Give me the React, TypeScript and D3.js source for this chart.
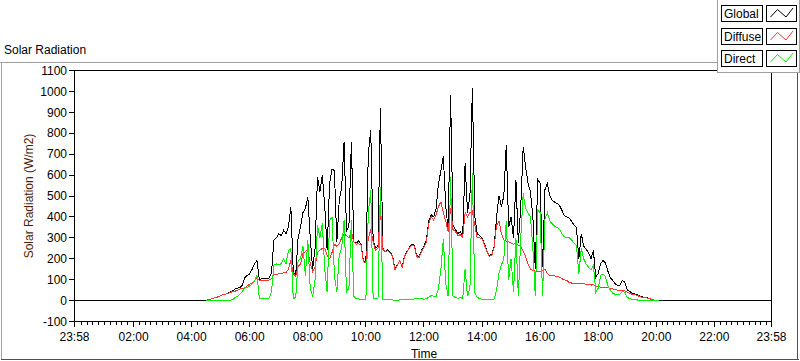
import React from "react";
import * as d3 from "d3";

// samples every 5 minutes, starting at firstSample
const firstSample = "04:30";
const stepMinutes = 5;

const globalRad = [
  2, 5, 8, 12, 15, 18, 24, 28, 30, 35,
  40, 48, 55, 60, 62, 75, 110, 120, 128, 150,
  175, 192, 100, 104, 106, 104, 108, 130, 290, 300,
  320, 310, 336, 320, 352, 448, 135, 120, 300, 352,
  420, 440, 496, 300, 150, 250, 590, 520, 600, 450,
  240, 560, 630, 620, 280, 480, 540, 760, 330, 360,
  760, 280, 275, 285, 270, 190, 185, 700, 815, 290,
  250, 260, 920, 250, 235, 245, 230, 215, 150, 170,
  192, 160, 215, 235, 255, 270, 265, 215, 210, 240,
  260, 290, 380, 410, 400, 440, 560, 620, 690, 450,
  340, 984, 360, 340, 320, 330, 310, 656, 420, 500,
  1018, 400, 320, 310, 300, 270, 240, 216, 220, 260,
  400, 500, 450, 500, 744, 350, 400, 300, 576, 275,
  450, 736, 640, 560, 520, 400, 150, 580, 560, 160,
  530, 560, 500, 480, 470, 465, 455, 432, 405, 400,
  395, 380, 360, 350, 200, 320, 260, 245, 230, 200,
  240, 112, 130, 176, 192, 180, 140, 110, 96, 80,
  72, 74, 96, 88, 50, 45, 35, 32, 28, 22,
  18, 16, 14, 10, 6, 3, 0, 0,
];

const diffuseRad = [
  2, 5, 8, 12, 15, 18, 24, 28, 30, 35,
  38, 45, 45, 50, 55, 58, 62, 70, 78, 85,
  95, 110, 95, 96, 98, 96, 98, 105, 125, 125,
  128, 130, 132, 135, 150, 192, 130, 115, 165, 175,
  225, 235, 240, 180, 140, 160, 230, 240, 250, 250,
  215, 200, 230, 270, 260, 272, 300, 320, 310, 300,
  330, 280, 270, 272, 265, 185, 180, 300, 336, 280,
  240, 250, 432, 245, 232, 240, 228, 212, 148, 168,
  190, 158, 212, 232, 252, 265, 260, 210, 205, 235,
  255, 280, 370, 400, 385, 410, 450, 472, 420, 380,
  330, 440, 340, 330, 310, 315, 300, 420, 400, 420,
  430, 360, 300, 300, 295, 265, 236, 212, 215, 255,
  360, 380, 320, 290, 285, 280, 275, 270, 275, 265,
  260, 235, 210, 175, 150, 144, 140, 140, 140, 145,
  150, 130, 120, 118, 118, 115, 112, 104, 100, 96,
  86, 84, 82, 84, 82, 80, 80, 78, 78, 74,
  76, 70, 68, 64, 64, 64, 62, 58, 56, 52,
  50, 50, 48, 46, 40, 35, 30, 28, 25, 20,
  16, 15, 13, 10, 6, 3, 0, 0,
];

const directRad = [
  0, 0, 0, 0, 0, 0, 0, 0, 0, 0,
  2, 5, 15, 20, 30, 45, 60, 64, 70, 80,
  95, 120, 12, 10, 8, 10, 12, 40, 170, 175,
  172, 176, 200, 175, 240, 250, 10, 15, 190, 200,
  260, 120, 290, 60, 20, 100, 360, 300, 370, 150,
  40, 380, 400, 120, 40, 220, 250, 384, 40, 60,
  384, 20, 10, 8, 5, 5, 5, 420, 528, 10,
  8, 10, 544, 5, 5, 5, 3, 3, 2, 2,
  3, 3, 3, 3, 5, 5, 8, 8, 10, 10,
  5, 10, 15, 25, 20, 20, 60, 150, 296, 80,
  20, 592, 20, 15, 10, 15, 10, 150, 20, 60,
  608, 40, 15, 10, 5, 5, 5, 5, 5, 8,
  50, 130, 170, 200, 380, 100, 200, 40, 300, 20,
  300, 512, 440, 420, 400, 250, 20, 432, 420, 20,
  390, 420, 380, 368, 355, 350, 340, 320, 305, 300,
  300, 290, 275, 265, 128, 250, 200, 175, 160, 145,
  170, 40, 60, 120, 128, 115, 70, 50, 35, 30,
  28, 30, 45, 40, 15, 10, 6, 4, 3, 2,
  1, 0, 0, 0, 0, 0, 0, 0,
];

const yTicks = [-100, 0, 100, 200, 300, 400, 500, 600, 700, 800, 900, 1000, 1100];
const xTickLabels = ["23:58", "02:00", "04:00", "06:00", "08:00", "10:00", "12:00",
  "14:00", "16:00", "18:00", "20:00", "22:00", "23:58"];
const xTickMinutes = [-2, 120, 240, 360, 480, 600, 720, 840, 960, 1080, 1200, 1320, 1438];
const legendNames = ["Global", "Diffuse", "Direct"];
const seriesColors = ["#000000", "#ff3030", "#00f000"];

const W = 800;
const H = 361;
const FONT = "'Liberation Sans', Arial, sans-serif";

const toMinutes = (s: string) => {
  const [h, m] = s.split(":").map(Number);
  return h * 60 + m;
};

export default function App() {
  const x = d3.scaleLinear().domain([-2, 1438]).range([74.5, 771.5]);
  const y = d3.scaleLinear().domain([-100, 1100]).range([321.5, 70.5]);

  const start = toMinutes(firstSample);
  const minutes = globalRad.map((_, i) => start + i * stepMinutes);

  // global is logged around the clock, zero at night
  const globalPts: [number, number][] = [
    [-2, 0],
    ...globalRad.map((v, i) => [minutes[i], v] as [number, number]),
    [1438, 0],
  ];
  const diffusePts = diffuseRad.map((v, i) => [minutes[i], v] as [number, number]);
  const directPts = directRad.map((v, i) => [minutes[i], v] as [number, number]);

  const line = d3
    .line<[number, number]>()
    .x((d) => x(d[0]))
    .y((d) => y(d[1]));

  const minorTicks = d3.range(12, 1438, 12).filter((m) => m % 120 !== 0);
  const snap = (v: number) => Math.round(v - 0.5) + 0.5;

  return (
    <div style={{ position: "absolute", left: 0, top: 0 }}>
      <svg width={W} height={H} style={{ display: "block", background: "#fff" }} fontFamily={FONT}>
        {/* panel frame */}
        <line x1={0} x2={718} y1={62.5} y2={62.5} stroke="#a0a0a0" />
        <line x1={1.5} x2={1.5} y1={62} y2={360} stroke="#a0a0a0" />
        <line x1={1} x2={799} y1={359.5} y2={359.5} stroke="#505050" />
        <line x1={797.5} x2={797.5} y1={72} y2={360} stroke="#505050" />

        <text x={4} y={54} fontSize={12} fill="#000">Solar Radiation</text>

        {/* plot area */}
        <rect x={74.5} y={70.5} width={697} height={251} fill="#fff" stroke="#000" shapeRendering="crispEdges" />

        {/* y axis */}
        {yTicks.map((t) => (
          <g key={t}>
            <line x1={69} x2={74} y1={snap(y(t))} y2={snap(y(t))} stroke="#000" shapeRendering="crispEdges" />
            <text x={67} y={y(t)} dy="0.35em" textAnchor="end" fontSize={12} fill="#000">{t}</text>
          </g>
        ))}
        <text
          transform={`translate(33, 196) rotate(-90)`}
          textAnchor="middle"
          fontSize={12}
          fill="#4a1e0a"
        >
          Solar Radiation (W/m2)
        </text>

        {/* x axis */}
        {minorTicks.map((m) => (
          <line key={m} x1={snap(x(m))} x2={snap(x(m))} y1={322} y2={325} stroke="#000" shapeRendering="crispEdges" />
        ))}
        {xTickMinutes.map((m, i) => (
          <g key={m}>
            <line x1={snap(x(m))} x2={snap(x(m))} y1={322} y2={327} stroke="#000" shapeRendering="crispEdges" />
            <text x={x(m)} y={341} textAnchor="middle" fontSize={12} fill="#000">{xTickLabels[i]}</text>
          </g>
        ))}
        <text x={424} y={358} textAnchor="middle" fontSize={12} fill="#000">Time</text>

        {/* series */}
        <path d={line(globalPts) || ""} fill="none" stroke={seriesColors[0]} strokeWidth={1} shapeRendering="crispEdges" />
        <path d={line(diffusePts) || ""} fill="none" stroke={seriesColors[1]} strokeWidth={1} shapeRendering="crispEdges" />
        <path d={line(directPts) || ""} fill="none" stroke={seriesColors[2]} strokeWidth={1} shapeRendering="crispEdges" />

        {/* legend */}
        <rect x={717.5} y={-1} width={82} height={73} fill="#fff" stroke="#a0a0a0" shapeRendering="crispEdges" />
        {legendNames.map((name, i) => {
          const top = Math.round(5 + i * 22.5) + 0.5;
          const sx = 766.5;
          const zig = [
            [sx + 4, top + 11.5],
            [sx + 11, top + 4],
            [sx + 19.5, top + 11.5],
            [sx + 26.5, top + 2.5],
          ];
          return (
            <g key={name}>
              <rect x={721.5} y={top} width={41} height={16} fill="#fff" stroke="#000" shapeRendering="crispEdges" />
              <text x={724} y={top + 12.5} fontSize={12} fill="#000">{name}</text>
              <rect x={sx} y={top} width={30} height={16} fill="#fff" stroke="#000" shapeRendering="crispEdges" />
              <polyline points={zig.map((p) => p.join(",")).join(" ")} fill="none" stroke={seriesColors[i]} />
            </g>
          );
        })}
      </svg>
    </div>
  );
}
